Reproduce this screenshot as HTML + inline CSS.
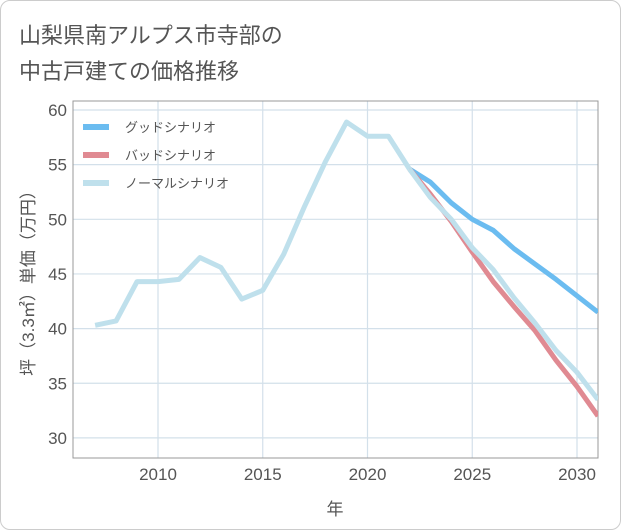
<!DOCTYPE html>
<html><head><meta charset="utf-8"><style>
body{margin:0;background:#fff;font-family:"Liberation Sans","Noto Sans CJK JP",sans-serif}
#wrap{position:relative;width:621px;height:530px;box-sizing:border-box;border:1px solid #ccc;border-radius:10px;overflow:hidden;background:#fff}
</style></head><body>
<div id="wrap">
<svg id="chart" width="621" height="530"></svg>
</div>
<script>
const years=[2007,2008,2009,2010,2011,2012,2013,2014,2015,2016,2017,2018,2019,2020,2021,2022];
const normalHist=[40.3,40.7,44.3,44.3,44.5,46.5,45.6,42.7,43.5,46.8,51.2,55.3,58.9,57.6,57.6,54.6];
const futYears=[2022,2023,2024,2025,2026,2027,2028,2029,2030,2031];
const good=[54.6,53.4,51.5,50.0,49.0,47.3,45.9,44.5,43.0,41.5];
const bad=[54.6,52.3,49.8,47.0,44.3,42.0,39.8,37.1,34.7,32.0];
const normal=[54.6,52.0,50.0,47.4,45.4,42.8,40.5,38.0,36.0,33.5];
const xTicks=[2010,2015,2020,2025,2030];
const yTicks=[30,35,40,45,50,55,60];
const legendLabels=["グッドシナリオ","バッドシナリオ","ノーマルシナリオ"];
const NS="http://www.w3.org/2000/svg";
const svg=document.getElementById('chart');
const L=72,R=597,T=100,B=457;
const x=v=>157+(v-2010)*20.95;
const y=v=>109+(60-v)*10.93;
function mk(t,a,p){const e=document.createElementNS(NS,t);for(const k in a)e.setAttribute(k,a[k]);(p||svg).appendChild(e);return e;}
function txt(s,a){const e=mk('text',a);e.textContent=s;return e;}
let t1=txt("山梨県南アルプス市寺部の",{x:18,y:42,'font-size':22,fill:'#555'});

let t2=txt("中古戸建ての価格推移",{x:18,y:78,'font-size':22,fill:'#555'});

yTicks.forEach(v=>{
 let g=mk('line',{x1:L,x2:R,y1:y(v),y2:y(v),stroke:'#d3e0ea','stroke-width':1.2});
 
 let l=txt(v,{x:L-6,y:y(v)+6,'font-size':17,fill:'#555','text-anchor':'end'});
 
});
xTicks.forEach(v=>{
 let g=mk('line',{x1:x(v),x2:x(v),y1:T,y2:B,stroke:'#d3e0ea','stroke-width':1.2});
 
 let l=txt(v,{x:x(v),y:B+22,'font-size':17,fill:'#555','text-anchor':'middle'});
 
});
let fr=mk('rect',{x:L,y:T,width:R-L,height:B-T,fill:'none',stroke:'#999','stroke-width':1});

let xt=txt("年",{x:334,y:514,'font-size':17,fill:'#555','text-anchor':'middle'});

let yt=txt("坪（3.3㎡）単価（万円）",{x:0,y:0,'font-size':17,fill:'#555','text-anchor':'middle',transform:'translate(33,278) rotate(-90)'});

const clip=mk('clipPath',{id:'pc'});mk('rect',{x:L,y:T,width:R-L,height:B-T},clip);
function line(xs,vs,c,name){
 let p=mk('polyline',{points:xs.map((v,i)=>x(v)+','+y(vs[i])).join(' '),fill:'none',stroke:c,'stroke-width':5,'stroke-linejoin':'round','clip-path':'url(#pc)'});
 
}
line(futYears,good,'#6bbcf0','good-scenario-line');
line(futYears,bad,'#e08a92','bad-scenario-line');
line(years,normalHist,'#bfe0ec','normal-history-line');
line(futYears,normal,'#bfe0ec','normal-scenario-line');
const lc=['#6bbcf0','#e08a92','#bfe0ec'];
legendLabels.forEach((s,i)=>{
 let yy=126+i*28;
 let sw=mk('line',{x1:82,x2:108,y1:yy,y2:yy,stroke:lc[i],'stroke-width':6});
 
 let lt=txt(s,{x:124,y:yy+5,'font-size':13,fill:'#555'});
 
});
</script>
</body></html>
